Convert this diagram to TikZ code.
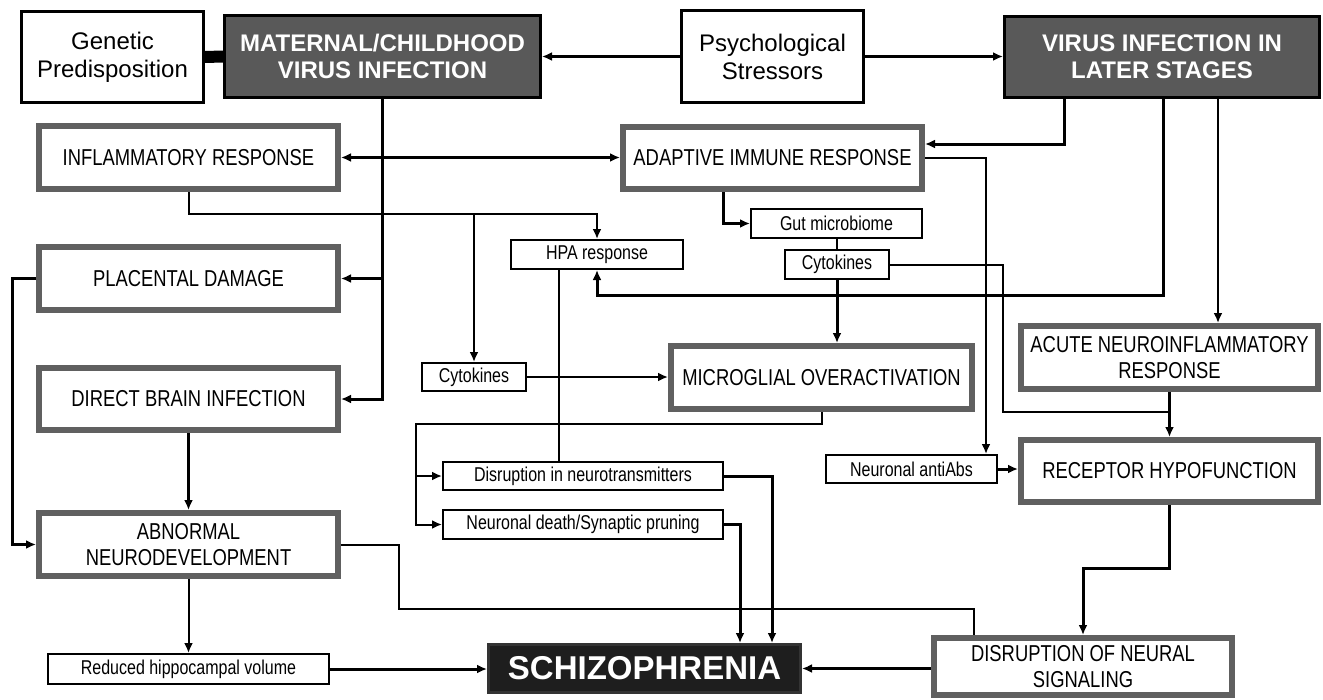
\documentclass[tikz,border=0pt]{standalone}
\usepackage{fontspec}
\setmainfont{Liberation Sans}
\newfontfamily\narrowfont[FakeStretch=0.8]{Liberation Sans}
\usepackage{tikz}
\usetikzlibrary{arrows.meta}
\definecolor{headgray}{HTML}{595959}
\definecolor{framegray}{HTML}{606060}
\definecolor{schzblack}{HTML}{1E1E1E}
\tikzset{>={Latex[length=10pt,width=9pt]}}
\tikzset{
  wh/.style 2 args={minimum width=#1,minimum height=#2},
  topbox/.style={draw=black,line width=3pt,fill=white,align=center,inner sep=0pt,font=\fontsize{24}{28}\selectfont},
  darkbox/.style={draw=black,line width=3pt,fill=headgray,text=white,align=center,inner sep=0pt,font=\fontsize{24}{27}\selectfont\bfseries},
  graybox/.style={draw=framegray,line width=6pt,fill=white,align=center,inner sep=0pt,font=\narrowfont\fontsize{23}{26}\selectfont},
  smallbox/.style={draw=black,line width=2pt,fill=white,inner sep=0pt,font=\narrowfont\fontsize{20}{22}\selectfont},
}

\begin{document}
\begin{tikzpicture}[x=1pt,y=-1pt]
    \useasboundingbox (0,0) rectangle (1323,699);
      \node[topbox,wh={182pt}{91pt}] (gen) at (112.5,57) {Genetic\\Predisposition};
      \node[darkbox,wh={316pt}{82pt}] (mat) at (382.5,56.5) {MATERNAL/CHILDHOOD\\VIRUS INFECTION};
      \node[topbox,wh={182pt}{92pt}] (psy) at (772.5,56.5) {Psychological\\Stressors};
      \node[darkbox,wh={315pt}{81pt}] (vir) at (1162,57) {VIRUS INFECTION IN\\LATER STAGES};
      \node[graybox,wh={299pt}{63pt}] (infl) at (188.5,157.5) {INFLAMMATORY RESPONSE};
      \node[graybox,wh={299pt}{62pt}] (adap) at (772.5,158) {ADAPTIVE IMMUNE RESPONSE};
      \node[smallbox,wh={171pt}{29pt}] (gut) at (836.5,223.5) {Gut microbiome};
      \node[smallbox,wh={104pt}{29pt}] (cytb) at (837,264.5) {Cytokines};
      \node[smallbox,wh={172pt}{29pt}] (hpa) at (597,254.5) {HPA response};
      \node[graybox,wh={299pt}{63pt}] (plac) at (188.5,278.5) {PLACENTAL DAMAGE};
      \node[graybox,wh={299pt}{62pt}] (dbi) at (188.5,399) {DIRECT BRAIN INFECTION};
      \node[smallbox,wh={104pt}{28pt}] (cyta) at (474,377) {Cytokines};
      \node[graybox,wh={301pt}{63pt}] (micro) at (821.5,377.5) {MICROGLIAL OVERACTIVATION};
      \node[graybox,wh={297pt}{63pt}] (acute) at (1169.5,357.5) {ACUTE NEUROINFLAMMATORY\\RESPONSE};
      \node[smallbox,wh={280pt}{28pt}] (dnt) at (583,476) {Disruption in neurotransmitters};
      \node[smallbox,wh={280pt}{29pt}] (ndp) at (583,524.5) {Neuronal death/Synaptic pruning};
      \node[smallbox,wh={171pt}{28pt}] (nab) at (911.5,469) {Neuronal antiAbs};
      \node[graybox,wh={297pt}{62pt}] (rec) at (1169.5,471) {RECEPTOR HYPOFUNCTION};
      \node[graybox,wh={299pt}{63pt}] (abn) at (188.5,544.5) {ABNORMAL\\NEURODEVELOPMENT};
      \node[smallbox,wh={281pt}{30pt}] (red) at (188.5,669) {Reduced hippocampal volume};
      \node[draw=black!80,line width=3pt,fill=schzblack,text=white,inner sep=0pt,wh={312pt}{48pt},font=\fontsize{33}{36}\selectfont\bfseries] (schz) at (644.5,668.5) {SCHIZOPHRENIA};
      \node[graybox,wh={298pt}{57pt}] (dns) at (1083,666.5) {DISRUPTION OF NEURAL\\SIGNALING};
      \draw[line width=12pt] (gen.east) -- (mat.west);
      \draw[line width=3pt,->] (psy.west) -- (mat.east);
      \draw[line width=3pt,->] (psy.east) -- (psy.east -| vir.west);
      \draw[line width=2.5pt,<->] (infl.east) -- (infl.east -| adap.west);
      \draw[line width=3pt,->] (mat.south) |- (plac.east);
      \draw[line width=3pt,->] (mat.south) |- (dbi.east);
      \draw[line width=3pt,->] ([xshift=-98pt]vir.south) |- ([yshift=14pt]adap.east);
      \draw[line width=3pt,->] ([xshift=1pt]vir.south) |- ([yshift=-25pt]hpa.south) -- (hpa.south);
      \draw[line width=2.5pt,->] ([xshift=56pt]vir.south) -- ([xshift=56pt]vir.south |- acute.north);
      \draw[line width=3pt,->] ([xshift=-49.5pt]adap.south) |- (gut.west);
      \draw[line width=2pt,->] (adap.east) -| ([xshift=74.5pt]nab.north);
      \draw[line width=2pt] (gut.south) -- (gut.south |- cytb.north);
      \draw[line width=3pt,->] (cytb.south) -- (cytb.south |- micro.north);
      \coordinate (recjoin) at ([yshift=-20pt]acute.south);
      \draw[line width=2pt] (cytb.east) -| ([xshift=-166.5pt]recjoin) -- (recjoin);
      \draw[line width=3pt,->] (acute.south) -- (rec.north);
      \draw[line width=2pt,->] (infl.south) |- ([yshift=25pt]hpa.north) -- (hpa.north);
      \draw[line width=2pt,->] ([yshift=25pt]hpa.north -| cyta.north) -- (cyta.north);
      \draw[line width=2pt,->] (cyta.east) -- (cyta.east -| micro.west);
      \draw[line width=2pt] ([xshift=-38pt]hpa.south) -- ([xshift=-38pt]hpa.south |- dnt.north);
      \draw[line width=2pt,->] (micro.south) -- ++(0,12) -| ([xshift=-26pt]ndp.west) -- (ndp.west);
      \draw[line width=2pt,->] ([xshift=-26pt]dnt.west) -- (dnt.west);
      \draw[line width=3pt,->] (dnt.east) -| ([xshift=127.5pt]schz.north);
      \draw[line width=3pt,->] (ndp.east) -| ([xshift=95.5pt]schz.north);
      \draw[line width=3pt,->] (dbi.south) -- (abn.north);
      \draw[line width=3pt,->] (plac.west) -- ++(-24,0) |- (abn.west);
      \draw[line width=2pt] (abn.east) -- ++(58,0) |- ([xshift=-109pt,yshift=26pt]dns.north) -- ([xshift=-109pt]dns.north);
      \draw[line width=2pt,->] (abn.south) -- (red.north);
      \draw[line width=3pt,->] (red.east) -- (red.east -| schz.west);
      \draw[line width=3pt,->] (schz.east -| dns.west) -- (schz.east);
      \draw[line width=3pt,->] (nab.east) -- (nab.east -| rec.west);
      \draw[line width=3pt,->] (rec.south) -- ++(0,63) -| (dns.north);
     \end{tikzpicture}
\end{document}
